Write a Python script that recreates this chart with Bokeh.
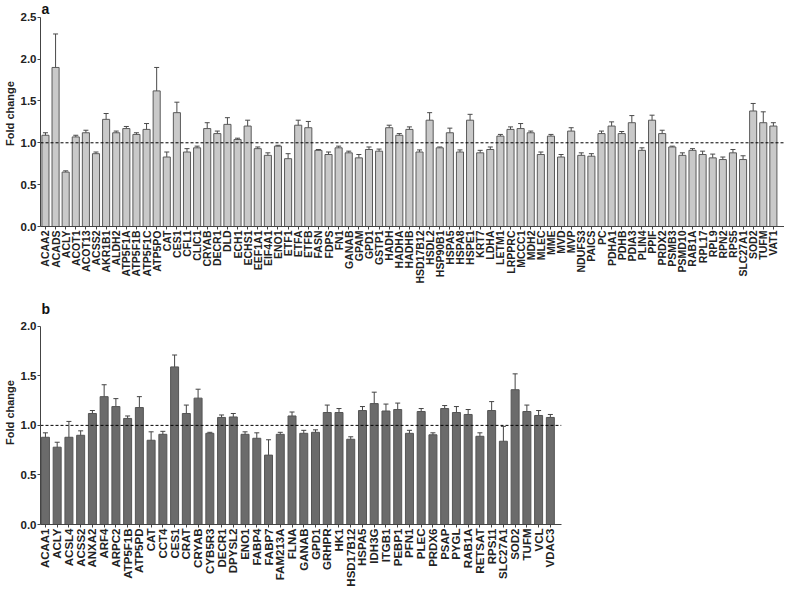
import math
from bokeh.plotting import figure
from bokeh.models import (ColumnDataSource, Range1d, FixedTicker, NumeralTickFormatter,
                          Whisker, TeeHead, Label)
from bokeh.layouts import column
from bokeh.embed import file_html
from bokeh.resources import INLINE

# ---------------- data: panel a ----------------
genes_a = ["ACAA2", "ACADS", "ACLY", "ACOT1", "ACOT13", "ACSS2", "AKR1B1", "ALDH2",
           "ATP5F1A", "ATP5F1B", "ATP5F1C", "ATP5PO", "CAT", "CES1", "CFL1", "CLIC1",
           "CRYAB", "DECR1", "DLD", "ECH1", "ECHS1", "EEF1A1", "EIF4A1", "ENO1", "ETF1",
           "ETFA", "ETFB", "FASN", "FDPS", "FN1", "GANAB", "GPAM", "GPD1", "GSTP1", "HADH",
           "HADHA", "HADHB", "HSD17B12", "HSDL2", "HSP90B1", "HSPA5", "HSPA8", "HSPE1",
           "KRT7", "LDHA", "LETM1", "LRPPRC", "MCCC1", "MDH2", "MLEC", "MME", "MVD", "MVP",
           "NDUFS3", "PAICS", "PC", "PDHA1", "PDHB", "PDIA3", "PLIN4", "PPIF", "PRDX2",
           "PSMB3", "PSMD10", "RAB1A", "RPL17", "RPL9", "RPN2", "RPS5", "SLC27A1", "SOD2",
           "TUFM", "VAT1"]
fold_a = [1.09, 1.90, 0.65, 1.07, 1.12, 0.87, 1.28, 1.12,
          1.17, 1.10, 1.16, 1.62, 0.83, 1.36, 0.89, 0.94,
          1.17, 1.11, 1.22, 1.04, 1.20, 0.93, 0.85, 0.96, 0.81,
          1.21, 1.18, 0.91, 0.86, 0.94, 0.88, 0.82, 0.92, 0.90, 1.18,
          1.09, 1.16, 0.89, 1.27, 0.94, 1.12, 0.89, 1.27,
          0.88, 0.92, 1.08, 1.16, 1.17, 1.12, 0.86, 1.08, 0.83, 1.14,
          0.85, 0.84, 1.11, 1.20, 1.11, 1.24, 0.91, 1.27, 1.11,
          0.95, 0.85, 0.91, 0.86, 0.82, 0.80, 0.88, 0.80, 1.38,
          1.24, 1.20]
err_a = [0.03, 0.40, 0.015, 0.02, 0.03, 0.02, 0.07, 0.02,
         0.025, 0.02, 0.07, 0.28, 0.06, 0.125, 0.04, 0.02,
         0.07, 0.03, 0.08, 0.015, 0.07, 0.02, 0.03, 0.01, 0.06,
         0.06, 0.075, 0.01, 0.03, 0.02, 0.02, 0.04, 0.03, 0.025, 0.03,
         0.02, 0.03, 0.025, 0.09, 0.01, 0.055, 0.025, 0.07,
         0.03, 0.03, 0.02, 0.03, 0.06, 0.02, 0.03, 0.02, 0.03, 0.04,
         0.03, 0.03, 0.03, 0.05, 0.025, 0.085, 0.03, 0.06, 0.04,
         0.01, 0.03, 0.02, 0.04, 0.045, 0.03, 0.04, 0.045, 0.09,
         0.13, 0.04]

# ---------------- data: panel b ----------------
genes_b = ["ACAA1", "ACLY", "ACSL4", "ACSS2", "ANXA2", "ARF4", "ARPC2", "ATP5F1B",
           "ATP5PD", "CAT", "CCT4", "CES1", "CRAT", "CRYAB", "CYB5R3", "DECR1", "DPYSL2",
           "ENO1", "FABP4", "FABP7", "FAM213A", "FLNA", "GANAB", "GPD1", "GRHPR", "HK1",
           "HSD17B12", "HSPA5", "IDH3G", "ITGB1", "PEBP1", "PFN1", "PLEC", "PRDX6", "PSAP",
           "PYGL", "RAB1A", "RETSAT", "RPS11", "SLC27A1", "SOD2", "TUFM", "VCL", "VDAC3"]
fold_b = [0.88, 0.78, 0.88, 0.90, 1.12, 1.29, 1.19, 1.07,
          1.18, 0.85, 0.91, 1.59, 1.12, 1.275, 0.92, 1.08, 1.085,
          0.91, 0.87, 0.70, 0.91, 1.095, 0.92, 0.93, 1.13, 1.13,
          0.86, 1.15, 1.22, 1.145, 1.16, 0.92, 1.14, 0.905, 1.17,
          1.13, 1.11, 0.89, 1.15, 0.84, 1.36, 1.14, 1.10, 1.08]
err_b = [0.045, 0.05, 0.16, 0.045, 0.03, 0.12, 0.08, 0.025,
         0.11, 0.085, 0.03, 0.12, 0.085, 0.09, 0.01, 0.025, 0.035,
         0.025, 0.055, 0.155, 0.02, 0.04, 0.03, 0.025, 0.075, 0.04,
         0.025, 0.04, 0.115, 0.07, 0.065, 0.03, 0.03, 0.02, 0.03,
         0.06, 0.05, 0.035, 0.09, 0.15, 0.16, 0.065, 0.05, 0.03]

yticks_a = [0.0, 0.5, 1.0, 1.5, 2.0, 2.5]
yticks_b = [0.0, 0.5, 1.0, 1.5, 2.0]

FONT = "Liberation Sans"


def make_panel(genes, fold, err, yticks, ymax, yend, fill, line, xr, xaxis_end,
               height, border_top, letter, whisker_color, bar_w, xlabel_size):
    n = len(genes)
    idx = list(range(n))
    src = ColumnDataSource(dict(
        x=idx, top=fold,
        upper=[v + e for v, e in zip(fold, err)],
        lower=[v - e for v, e in zip(fold, err)],
    ))
    p = figure(width=784, height=height, output_backend="svg", toolbar_location=None,
               x_range=Range1d(*xr), y_range=Range1d(0, yend),
               min_border_left=30, min_border_right=0,
               min_border_top=border_top, min_border_bottom=62)
    p.outline_line_color = None
    p.xgrid.visible = False
    p.ygrid.visible = False

    p.vbar(x="x", top="top", bottom=0, width=bar_w, source=src,
           fill_color=fill, line_color=line, line_width=1)

    head = dict(size=5, line_color=whisker_color, line_width=1)
    p.add_layout(Whisker(source=src, base="x", upper="upper", lower="lower",
                         line_color=whisker_color, line_width=1,
                         upper_head=TeeHead(**head), lower_head=TeeHead(**head)))

    # reference line at fold change = 1
    p.line(x=[xr[0], xaxis_end], y=[1.0, 1.0], line_color="black",
           line_width=1, line_dash="3 2")

    # axes
    p.yaxis.ticker = FixedTicker(ticks=yticks)
    p.yaxis.bounds = (0, ymax)
    p.yaxis.formatter = NumeralTickFormatter(format="0.0")
    p.yaxis.axis_label = "Fold change"
    p.yaxis.axis_label_text_font = FONT
    p.yaxis.axis_label_text_font_style = "bold"
    p.yaxis.axis_label_text_font_size = "11px"
    p.yaxis.axis_label_text_color = "#222222"
    p.yaxis.axis_label_standoff = 2
    p.yaxis.minor_tick_line_color = None

    p.xaxis.ticker = FixedTicker(ticks=idx)
    p.xaxis.bounds = (xr[0], xaxis_end)
    p.xaxis.major_label_overrides = {i: g for i, g in zip(idx, genes)}
    p.xaxis.major_label_orientation = math.pi / 2
    p.xaxis.minor_tick_line_color = None

    for ax in (p.xaxis, p.yaxis):
        ax.axis_line_color = "#444444"
        ax.major_tick_line_color = "#444444"
        ax.major_tick_in = 0
        ax.major_tick_out = 3
        ax.major_label_text_font = FONT
        ax.major_label_text_font_style = "bold"
        ax.major_label_text_color = "#222222"
        ax.major_label_standoff = 1
    p.yaxis.major_label_text_font_size = "11.5px"
    p.xaxis.major_label_text_font_size = xlabel_size

    p.add_layout(Label(x=xr[0], y=yend, text=letter, text_font=FONT,
                       text_font_style="bold", text_font_size="14px",
                       text_baseline="top", text_align="left", x_offset=1,
                       text_color="#111111"))
    return p


pa = make_panel(genes_a, fold_a, err_a, yticks_a, 2.5, 2.70, "#c9c9c9", "#5a5a5a",
                (-0.49, 73.1), 73.1, 288, 0, "a", "#4a4a4a", 0.7, "10.5px")
pb = make_panel(genes_b, fold_b, err_b, yticks_b, 2.0, 2.26, "#6b6b6b", "#555555",
                (-0.42, 62.94), 43.93, 301, 12, "b", "#444444", 0.68, "11.5px")

layout = column(pa, pb, spacing=0)

with open("out.html", "w") as f:
    f.write(file_html(layout, INLINE))
